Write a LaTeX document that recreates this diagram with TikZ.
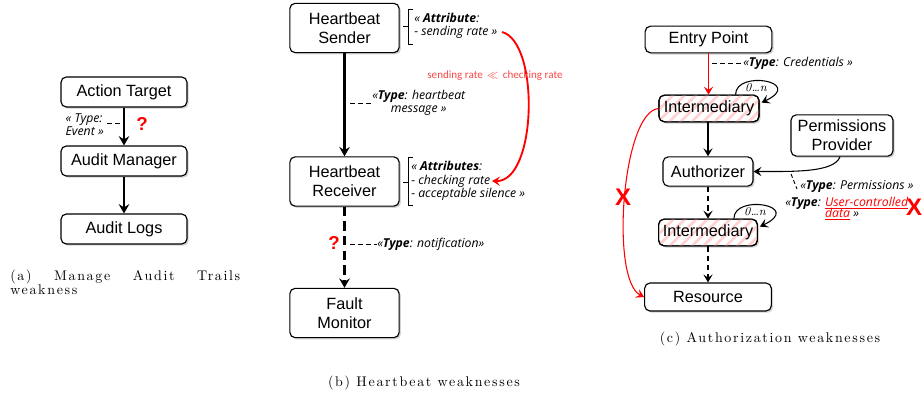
\documentclass[tikz,border=0pt]{standalone}
\usepackage{fontspec}
\newfontfamily\boxfont{Liberation Sans}
\newfontfamily\labfont{Open Sans}
\newfontfamily\redlabfont{Carlito}
\newfontfamily\capfont{lmroman10-regular}[Extension=.otf,LetterSpace=12]
\usetikzlibrary{arrows.meta,shadows,patterns.meta}
\definecolor{lightred}{RGB}{250,70,70}
\tikzset{
  box/.style={draw, line width=0.85pt, rounded corners=4pt, fill=white, align=center,
    inner sep=0pt, font=\boxfont\fontsize{12.2}{14.3}\selectfont,
    drop shadow={shadow xshift=1.3pt, shadow yshift=-1.3pt, opacity=0.35}},
  hatch/.style={box, postaction={draw, line width=0.85pt,
    pattern={Lines[angle=45,distance=6pt,line width=2pt]}, pattern color=red!18}},
  lab/.style={font=\labfont\itshape\fontsize{9.2}{10}\selectfont, inner sep=0pt},
  redlab/.style={font=\redlabfont\fontsize{8.3}{10}\selectfont, text=lightred, inner sep=0pt},
  thickarr/.style={line width=1.6pt, -{Stealth[length=7pt,width=8pt,inset=2.5pt]}},
  thinarr/.style={line width=0.8pt, -{Stealth[length=6pt,width=7pt,inset=2.5pt]}},
  lbldash/.style={line width=0.7pt, dash pattern=on 3.5pt off 2.5pt},
  qmark/.style={font=\boxfont\bfseries\fontsize{14}{14}\selectfont, text=red, inner sep=0pt},
  xmark/.style={font=\boxfont\bfseries\fontsize{18}{18}\selectfont, text=red, inner sep=0pt},
  loopn/.style={font=\itshape\fontsize{9}{10}\selectfont, inner sep=0pt},
  captext/.style={font=\capfont\fontsize{10.5}{10.5}\selectfont, inner sep=0pt},
  bracket/.style={line width=0.7pt}
}
\begin{document}
\begin{tikzpicture}[x=0.75pt, y=-0.75pt]
\useasboundingbox (0,0) rectangle (923,395);

% ---------------- (a)
\node[box, minimum width=94.5pt, minimum height=22.5pt] (at) at (124,92) {Action Target};
\node[box, minimum width=94.5pt, minimum height=22.5pt] (am) at (124,161) {Audit Manager};
\node[box, minimum width=94.5pt, minimum height=22.5pt] (al) at (124,229) {Audit Logs};
\draw[thickarr] (at) -- (am);
\draw[thickarr] (am) -- (al);
\node[lab, anchor=east, align=left] (la) at (104,125) {« Type:\\Event »};
\coordinate (ca) at (123,123);
\draw[lbldash] (107,123) -- (ca);
\node[qmark] (qa) at (142,124) {?};
\node[captext, anchor=north west, text width=172.5pt, align=justify] (capa) at (10,270)
  {(a) Manage Audit Trails\linebreak weakness};

% ---------------- (b)
\node[box, minimum width=82pt, minimum height=37pt] (hs) at (344.5,28) {Heartbeat\\Sender};
\node[box, minimum width=82pt, minimum height=37pt] (hr) at (344.5,181.5) {Heartbeat\\Receiver};
\node[box, minimum width=82pt, minimum height=37pt] (fm) at (344.5,313) {Fault\\Monitor};
\draw[thickarr] (hs) -- (hr);
\draw[thickarr, dash pattern=on 7pt off 4pt] (hr) -- (fm);

\node[lab, anchor=west, align=center] (lhb) at (372,103) {«\textbf{Type}: heartbeat\\message »};
\draw[lbldash] (350,103) -- (lhb.west);

\draw[bracket] (413,9) -- (408,9) -- (408,44) -- (413,44);
\draw[bracket] (408,26) -- (403,26);
\node[lab, anchor=west, align=left] (ls) at (414,26) {« \textbf{Attribute}:\\- sending rate »};

\draw[bracket] (413,157) -- (408,157) -- (408,205) -- (413,205);
\draw[bracket] (408,182) -- (403,182);
\node[lab, anchor=west, align=left] (lr) at (411,181) {« \textbf{Attributes}:\\- checking rate\\- acceptable silence »};

\coordinate (srate) at (502,32);
\coordinate (crate) at (492,181);
\draw[red, line width=1.4pt, -{Stealth[length=6pt,width=7pt,inset=2.5pt]}] (srate) .. controls (540,42) and (537,182) .. (crate);
\node[redlab] (rl) at (495,76) {sending rate \,$\ll$\, checking rate};

\node[qmark] (qb) at (334,243) {?};
\node[lab, anchor=west] (ln) at (377,244) {«\textbf{Type}: notification»};
\draw[lbldash] (350,244) -- (ln.west);

\node[captext, anchor=base] (capb) at (424,386) {(b) Heartbeat weaknesses};

% ---------------- (c)
\node[box, minimum width=95pt, minimum height=20pt] (ep) at (708.5,39.5) {Entry Point};
\node[hatch, minimum width=75pt, minimum height=20pt] (i1) at (709,108.5) {Intermediary};
\node[box, minimum width=67.5pt, minimum height=22pt] (au) at (708,171.5) {Authorizer};
\node[box, minimum width=76.5pt, minimum height=31pt] (pp) at (842,135.5) {Permissions\\Provider};
\node[hatch, minimum width=74pt, minimum height=20pt] (i2) at (708,232.5) {Intermediary};
\node[box, minimum width=95pt, minimum height=21pt] (rs) at (708,297) {Resource};

\draw[red, thinarr] (ep.south) -- (ep.south |- i1.north);
\draw[thinarr] (i1.south -| au.north) -- (au.north);
\draw[thinarr, dash pattern=on 4pt off 3pt] (au.south) -- (au.south |- i2.north);
\draw[thinarr, dash pattern=on 4pt off 3pt] (i2.south) -- (i2.south |- rs.north);

\node[lab, anchor=west] (lc) at (743,63) {«\textbf{Type}: Credentials »};
\draw[lbldash] (712,63) -- (lc.west);

% self loops
\draw[thinarr] ([xshift=-18pt]i1.north east) .. controls +(0,-25) and +(44,-21) .. ([xshift=1.5pt,yshift=-6pt]i1.north east);
\node[loopn] (n1) at (756,88) {0\ldots n};
\draw[thinarr] ([xshift=-18pt]i2.north east) .. controls +(0,-25) and +(44,-21) .. ([xshift=1.5pt,yshift=-6pt]i2.north east);
\node[loopn] (n2) at (755,212) {0\ldots n};

% permissions provider
\draw[thinarr] ([xshift=-1.5pt]pp.south) .. controls +(-6,16) and +(40,0) .. (au.east);
\node[lab, anchor=west] (lp) at (800,186) {«\textbf{Type}: Permissions »};
\coordinate (pc) at (791,174);
\draw[lbldash, dash pattern=on 3pt off 2pt] (pc) -- (797,189);

\node[lab, anchor=base west] (lu) at (785,206)
  {«\textbf{Type}: \begin{tabular}[t]{@{}l@{}}{\color{red}\underline{User-controlled}}\\[-1.5pt]{\color{red}\underline{data}} »\end{tabular}};

% red bypass
\draw[red, thinarr] (i1.west) .. controls (622,112) and (610,280) .. (rs.west);
\node[xmark] (x1) at (623,197) {X};
\node[xmark] (x2) at (914,207) {X};

\node[captext, anchor=base] (capc) at (770,342) {(c) Authorization weaknesses};
\end{tikzpicture}
\end{document}
